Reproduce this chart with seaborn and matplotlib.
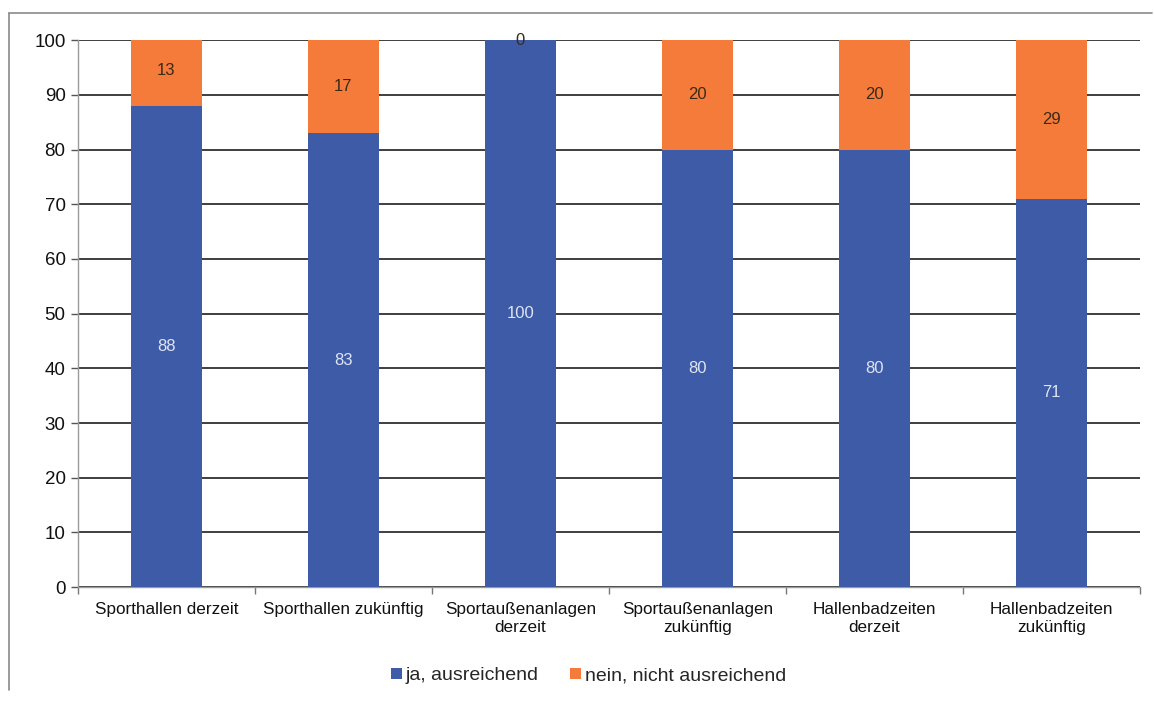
import matplotlib
matplotlib.use("Agg")
import matplotlib.pyplot as plt
from matplotlib.patches import Patch
from matplotlib.lines import Line2D
import numpy as np
import pandas as pd
import seaborn as sns

categories = [
    "Sporthallen derzeit",
    "Sporthallen zukünftig",
    "Sportaußenanlagen\nderzeit",
    "Sportaußenanlagen\nzukünftig",
    "Hallenbadzeiten\nderzeit",
    "Hallenbadzeiten\nzukünftig",
]
ja_values = [88, 83, 100, 80, 80, 71]
nein_values = [13, 17, 0, 20, 20, 29]
series_names = ["ja, ausreichend", "nein, nicht ausreichend"]
y_ticks = [0, 10, 20, 30, 40, 50, 60, 70, 80, 90, 100]

blue = "#3E5BA7"
orange = "#F57B3A"

sns.set_theme(style="white")
plt.rcParams["font.family"] = ["Liberation Sans", "DejaVu Sans"]

df = pd.DataFrame({"Kategorie": categories, "ja": ja_values, "nein": nein_values})

fig = plt.figure(figsize=(11.54, 7.04), dpi=100)
ax = fig.add_axes([0.0676, 0.166, 0.920, 0.777])

# stacked bars: "ja" from zero, "nein" on top of it
sns.barplot(data=df, x="Kategorie", y="ja", color=blue, saturation=1,
            width=0.40, ax=ax, zorder=3, order=categories, linewidth=0)
sns.barplot(data=df, x="Kategorie", y="nein", color=orange, saturation=1,
            width=0.40, ax=ax, zorder=3, order=categories, linewidth=0,
            bottom=np.array(ja_values, dtype=float))

ax.set_ylim(0, 100)
ax.set_xlim(-0.5, len(categories) - 0.5)
ax.set_yticks(y_ticks)
ax.set_yticklabels([str(t) for t in y_ticks], fontsize=13.5)
ax.set_xticks(range(len(categories)))
ax.set_xticklabels(categories, fontsize=12.3, linespacing=1.2)
ax.set_xlabel("")
ax.set_ylabel("")

# horizontal gridlines
ax.yaxis.grid(True, color="#1e1e1e", linewidth=1.2, zorder=0)
ax.xaxis.grid(False)
ax.set_axisbelow(True)

for side in ["top", "right"]:
    ax.spines[side].set_visible(False)
for side in ["left", "bottom"]:
    ax.spines[side].set_color("#9a9a9a")
    ax.spines[side].set_linewidth(1.0)

ax.tick_params(axis="y", which="major", left=True, length=5, width=1,
               color="#555555", pad=4, labelcolor="#111111")
ax.tick_params(axis="x", which="major", bottom=False, pad=5, labelcolor="#111111")
ax.set_xticks(np.arange(-0.5, len(categories), 1.0), minor=True)
ax.tick_params(axis="x", which="minor", bottom=True, length=5, width=1, color="#777777")

# value labels in the middle of each segment
for i, (ja, nein) in enumerate(zip(ja_values, nein_values)):
    ax.text(i, ja / 2, f"{ja}", ha="center", va="center", fontsize=12,
            color="#dfe4f2", zorder=5)
    ax.text(i, ja + nein / 2, f"{nein}", ha="center", va="center", fontsize=12,
            color="#3a2a1a", zorder=5)

handles = [Patch(facecolor=blue, edgecolor="none"),
           Patch(facecolor=orange, edgecolor="none")]
fig.legend(handles, series_names, loc="center", bbox_to_anchor=(0.51, 0.040),
           ncol=2, frameon=False, fontsize=14, handlelength=0.55, handleheight=0.55,
           handletextpad=0.2, columnspacing=1.6)

# chart-area frame lines (top and left)
fig.lines.append(Line2D([0.008, 0.998], [0.982, 0.982], transform=fig.transFigure,
                        color="#8a8a8a", linewidth=1.2))
fig.lines.append(Line2D([0.008, 0.008], [0.02, 0.982], transform=fig.transFigure,
                        color="#8a8a8a", linewidth=1.2))

fig.savefig("out.png", dpi=100, facecolor="white")
